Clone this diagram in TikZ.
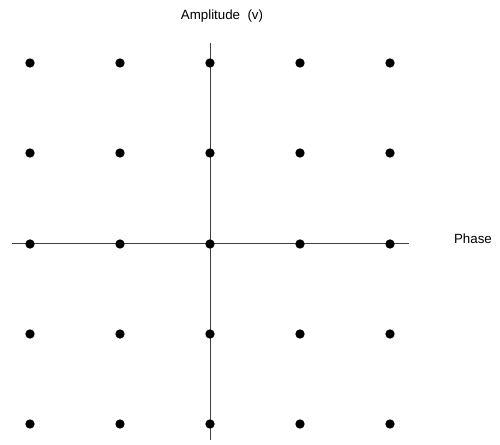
\documentclass[tikz,border=0pt]{standalone}
\usepackage{fontspec}
\setmainfont{Liberation Sans}
\tikzset{
  pt/.style={circle, fill=black, minimum size=7pt, inner sep=0pt},
  axis/.style={draw=black!75, line width=0.75pt},
  axislabel/.style={font=\fontsize{10}{12}\selectfont, inner sep=0pt},
}

\begin{document}
\begin{tikzpicture}[x=0.75pt, y=-0.75pt]
    \useasboundingbox (0,0) rectangle (500,445);
    % axes
    \coordinate (top) at (210, 43);
    \coordinate (bot) at (210, 440);
    \coordinate (lft) at (12, 244);
    \coordinate (rgt) at (409, 244);
    \draw[axis] (top) -- (bot);
    \draw[axis] (lft) -- (rgt);
    \node[axislabel] (amp) at (222, 16) {Amplitude\ \ (v)};
    \node[axislabel] (phase) at (473, 239) {Phase};
    % row 1
    \node[pt] (p11) at (30, 63) {};
    \node[pt] (p12) at (120, 63) {};
    \node[pt] (p13) at (210, 63) {};
    \node[pt] (p14) at (300, 63) {};
    \node[pt] (p15) at (390, 63) {};
    % row 2
    \node[pt] (p21) at (30, 153) {};
    \node[pt] (p22) at (120, 153) {};
    \node[pt] (p23) at (210, 153) {};
    \node[pt] (p24) at (300, 153) {};
    \node[pt] (p25) at (390, 153) {};
    % row 3
    \node[pt] (p31) at (30, 244) {};
    \node[pt] (p32) at (120, 244) {};
    \node[pt] (p33) at (210, 244) {};
    \node[pt] (p34) at (300, 244) {};
    \node[pt] (p35) at (390, 244) {};
    % row 4
    \node[pt] (p41) at (30, 334) {};
    \node[pt] (p42) at (120, 334) {};
    \node[pt] (p43) at (210, 334) {};
    \node[pt] (p44) at (300, 334) {};
    \node[pt] (p45) at (390, 334) {};
    % row 5
    \node[pt] (p51) at (30, 424) {};
    \node[pt] (p52) at (120, 424) {};
    \node[pt] (p53) at (210, 424) {};
    \node[pt] (p54) at (300, 424) {};
    \node[pt] (p55) at (390, 424) {};
  \end{tikzpicture}
\end{document}
